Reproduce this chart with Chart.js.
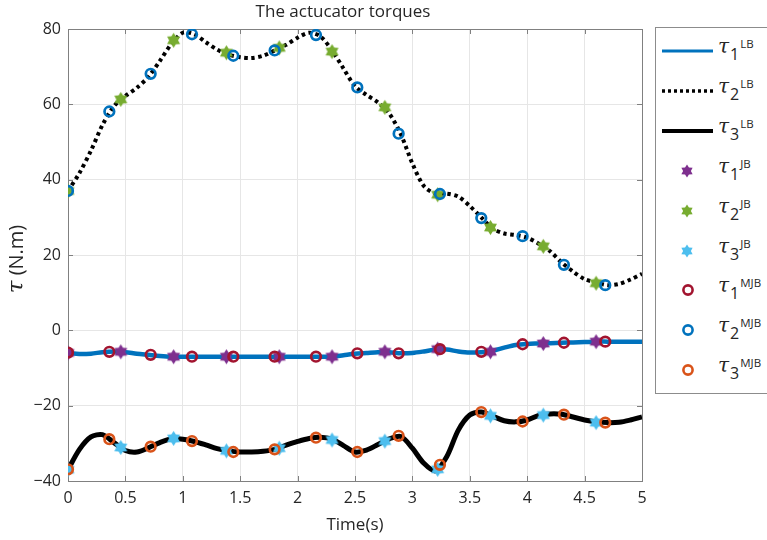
<!DOCTYPE html>
<html>
<head>
<meta charset="utf-8">
<script src="https://cdn.jsdelivr.net/npm/chart.js@4.4.1/dist/chart.umd.min.js"></script>
<style>
  html, body { margin: 0; padding: 0; background: #fff; }
  #wrap { position: relative; width: 767px; height: 540px; overflow: hidden; }
  #legend {
    position: absolute; left: 655px; top: 27px; width: 120px; height: 367px;
    border: 1px solid #8c8c8c; background: #fff; box-sizing: border-box;
  }
  .row { position: absolute; left: 0; height: 24px; width: 120px; }
  .row svg { position: absolute; left: 5px; top: 0; }
  .lab { position: absolute; left: 62px; top: -5px; font-family: "Open Sans", sans-serif; color: #262626; white-space: nowrap; }
  .lab .tau { font-family: "DejaVu Serif", serif; font-style: italic; font-size: 20px; }
  .lab .sub { position: relative; top: 7px; font-size: 16px; margin-left: 1px; }
  .lab .sup { position: relative; top: -5px; font-size: 11.5px; margin-left: 1px; }
</style>
</head>
<body>
<div id="wrap">
  <canvas id="chart" width="767" height="540"></canvas>
  <div id="legend"></div>
</div>
<script>
// زمان نمونه‌های منحنی‌های LB
const lineTime = [0, 0.1, 0.2, 0.3, 0.4, 0.5, 0.6, 0.7, 0.8, 0.9,
  1.0, 1.1, 1.2, 1.3, 1.4, 1.5, 1.6, 1.7, 1.8, 1.9,
  2.0, 2.1, 2.2, 2.3, 2.4, 2.5, 2.6, 2.7, 2.8, 2.9,
  3.0, 3.1, 3.2, 3.3, 3.4, 3.5, 3.6, 3.7, 3.8, 3.9,
  4.0, 4.1, 4.2, 4.3, 4.4, 4.5, 4.6, 4.7, 4.8, 4.9, 5.0];

const tau1LB = [-6, -6.3, -6.2, -5.8, -5.6, -5.8, -6.2, -6.5, -6.8, -7,
  -7, -7, -7, -7, -7, -7, -7, -7, -7, -7,
  -7, -7, -7, -7, -6.6, -6.2, -6, -5.8, -5.8, -6.1,
  -6, -5.6, -5.1, -5.1, -5.6, -5.9, -5.8, -5.4, -4.6, -3.9,
  -3.6, -3.5, -3.4, -3.3, -3.2, -3.1, -3, -3, -3, -3, -3];

const tau2LB = [37, 41.8, 47.7, 54.5, 59.5, 62.2, 64.4, 67.3, 71.5, 76,
  79, 78.6, 76.5, 74.5, 73.2, 72.5, 72.3, 72.9, 74.3, 75.8,
  77.7, 79, 78, 74.3, 69.5, 64.8, 62.5, 60.5, 57.5, 52,
  44.3, 38.3, 36.3, 36.3, 35.5, 33, 30, 27, 25.7, 25.3,
  24.6, 23, 21, 18, 15.6, 13.6, 12.7, 12, 12.3, 13.5, 15];

const tau3LB = [-37, -31.6, -28.3, -27.7, -29.8, -31.9, -32.3, -31.2, -29.8, -28.8,
  -28.9, -29.5, -30.4, -31.4, -32, -32.3, -32.3, -32.1, -31.6, -30.5,
  -29.5, -28.7, -28.4, -28.9, -30.6, -32.3, -31.8, -30.3, -28.8, -28.2,
  -31.3, -35.3, -37.3, -33.5, -26.5, -22.5, -21.7, -22.8, -24, -24.3,
  -23.8, -22.6, -22.2, -22.3, -23, -23.8, -24.3, -24.5, -24.4, -23.8, -23];

// نقاط JB (ستاره)
const jbTime = [0, 0.46, 0.92, 1.38, 1.84, 2.3, 2.76, 3.22, 3.68, 4.14, 4.6];
const tau1JB = [-6, -5.7, -7, -7, -7, -7, -5.7, -5, -5.7, -3.5, -3];
const tau2JB = [37, 61.3, 77, 73.7, 75, 74, 59.2, 36, 27.3, 22.3, 12.5];
const tau3JB = [-37, -31.1, -28.7, -32, -31.3, -29.1, -29.4, -36.9, -22.7, -22.5, -24.5];

// نقاط MJB (دایره)
const mjbTime = [0, 0.36, 0.72, 1.08, 1.44, 1.8, 2.16, 2.52, 2.88, 3.24, 3.6, 3.96, 4.32, 4.68];
const tau1MJB = [-5.9, -5.7, -6.5, -7, -7, -7, -7, -6.1, -6.1, -5, -5.7, -3.7, -3.3, -3];
const tau2MJB = [37, 58.1, 68.1, 78.6, 72.9, 74.3, 78.4, 64.5, 52.2, 36.2, 29.8, 25, 17.4, 12];
const tau3MJB = [-36.9, -28.9, -30.9, -29.4, -32.3, -31.6, -28.5, -32.3, -28, -35.7, -21.7, -24.2, -22.4, -24.5];

const xTicks = [0, 0.5, 1, 1.5, 2, 2.5, 3, 3.5, 4, 4.5, 5];
const yTicks = [-40, -20, 0, 20, 40, 60, 80];

const pts = (xs, ys) => xs.map((x, i) => ({ x: x, y: ys[i] }));

// ستاره شش‌پر برای نشانگرها
function hexagram(color, r) {
    const c = document.createElement('canvas');
    const s = Math.ceil(r * 2 + 2);
    c.width = s; c.height = s;
    const g = c.getContext('2d');
    g.fillStyle = color;
    g.beginPath();
    for (let k = 0; k < 12; k++) {
        const a = -Math.PI / 2 + k * Math.PI / 6;
        const rr = k % 2 === 0 ? r : r * 0.6;
        const px = s / 2 + rr * Math.cos(a), py = s / 2 + rr * Math.sin(a);
        k === 0 ? g.moveTo(px, py) : g.lineTo(px, py);
    }
    g.closePath();
    g.fill();
    return c;
}

function hexPath(cx, cy, r) {
    let p = [];
    for (let k = 0; k < 12; k++) {
        const a = -Math.PI / 2 + k * Math.PI / 6;
        const rr = k % 2 === 0 ? r : r * 0.6;
        p.push((cx + rr * Math.cos(a)).toFixed(2) + ',' + (cy + rr * Math.sin(a)).toFixed(2));
    }
    return p.join(' ');
}

const C = {
    blue: '#0072BD', purple: '#7E2F8E', green: '#77AC30', cyan: '#4DBEEE',
    red: '#A2142F', orange: '#D95319', black: '#000000'
};

function circleSet(data, color) {
    return {
        data: data, showLine: false, pointStyle: 'circle', pointRadius: 4.8,
        pointBorderWidth: 2.7, pointBorderColor: color, pointBackgroundColor: 'rgba(0,0,0,0)', order: 1
    };
}
function starSet(data, color) {
    return { data: data, showLine: false, pointStyle: hexagram(color, 7.5), order: 2 };
}
function lineSet(data, color, width, dash) {
    return {
        data: data, showLine: true, borderColor: color, borderWidth: width, borderDash: dash || [],
        pointRadius: 0, tension: 0.3, fill: false, order: 3
    };
}

// کادر دور محور، تیک‌های داخلی و عنوان‌ها
const axesBox = {
    id: 'axesBox',
    beforeDatasetsDraw(chart) {
        const { ctx, chartArea: a, scales: { x, y } } = chart;
        ctx.save();
        ctx.strokeStyle = '#808080';
        ctx.lineWidth = 1;
        ctx.beginPath();
        xTicks.forEach(v => {
            const px = Math.round(x.getPixelForValue(v)) + 0.5;
            ctx.moveTo(px, a.bottom); ctx.lineTo(px, a.bottom - 5);
            ctx.moveTo(px, a.top); ctx.lineTo(px, a.top + 5);
        });
        yTicks.forEach(v => {
            const py = Math.round(y.getPixelForValue(v)) + 0.5;
            ctx.moveTo(a.left, py); ctx.lineTo(a.left + 5, py);
            ctx.moveTo(a.right, py); ctx.lineTo(a.right - 5, py);
        });
        ctx.stroke();
        ctx.strokeRect(Math.round(a.left) + 0.5, Math.round(a.top) + 0.5,
            Math.round(a.right - a.left), Math.round(a.bottom - a.top));
        ctx.restore();
    },
    afterDraw(chart) {
        const { ctx, chartArea: a } = chart;
        ctx.save();
        ctx.fillStyle = '#262626';
        ctx.textBaseline = 'middle';
        ctx.textAlign = 'center';
        ctx.font = '17px "Open Sans", sans-serif';
        ctx.fillText('The actucator torques', 343, 12);

        // برچسب محور y با تاو ایتالیک
        ctx.translate(17, (a.top + a.bottom) / 2 + 4);
        ctx.rotate(-Math.PI / 2);
        ctx.textAlign = 'left';
        const f1 = 'italic 23px "DejaVu Serif", serif';
        const f2 = '20px "Open Sans", sans-serif';
        ctx.font = f1;
        const w1 = ctx.measureText('\u03C4').width;
        ctx.font = f2;
        const w2 = ctx.measureText(' (N.m)').width;
        const x0 = -(w1 + w2) / 2;
        ctx.font = f1;
        ctx.fillText('\u03C4', x0, 0);
        ctx.font = f2;
        ctx.fillText(' (N.m)', x0 + w1, 0);
        ctx.restore();
    }
};

const tickFont = { family: '"Open Sans", sans-serif', size: 16 };

new Chart(document.getElementById('chart').getContext('2d'), {
    type: 'scatter',
    data: {
        datasets: [
            circleSet(pts(mjbTime, tau1MJB), C.red),
            circleSet(pts(mjbTime, tau2MJB), C.blue),
            circleSet(pts(mjbTime, tau3MJB), C.orange),
            starSet(pts(jbTime, tau1JB), C.purple),
            starSet(pts(jbTime, tau2JB), C.green),
            starSet(pts(jbTime, tau3JB), C.cyan),
            lineSet(pts(lineTime, tau1LB), C.blue, 4.5),
            lineSet(pts(lineTime, tau2LB), C.black, 4, [3.5, 3.5]),
            lineSet(pts(lineTime, tau3LB), C.black, 5)
        ]
    },
    options: {
        responsive: false,
        animation: false,
        layout: { padding: { left: 0, top: 29, right: 125, bottom: 0 } },
        plugins: {
            legend: { display: false },
            tooltip: { enabled: false },
            title: { display: false }
        },
        scales: {
            x: {
                type: 'linear', min: 0, max: 5,
                afterFit: s => { s.height = 59; },
                afterBuildTicks: s => { s.ticks = xTicks.map(v => ({ value: v })); },
                ticks: { font: tickFont, color: '#262626', padding: 8, maxRotation: 0, callback: v => String(v) },
                grid: { color: '#e6e6e6', drawTicks: false },
                border: { display: false },
                title: {
                    display: true, text: 'Time(s)', color: '#262626',
                    font: { family: '"Open Sans", sans-serif', size: 17 },
                    padding: { top: 5, bottom: 5 }
                }
            },
            y: {
                type: 'linear', min: -40, max: 80,
                afterFit: s => { s.width = 68; },
                afterBuildTicks: s => { s.ticks = yTicks.map(v => ({ value: v })); },
                ticks: {
                    font: tickFont, color: '#262626', padding: 7,
                    callback: v => String(v).replace('-', '\u2212')
                },
                grid: { color: '#e6e6e6', drawTicks: false },
                border: { display: false },
                title: { display: false }
            }
        }
    },
    plugins: [axesBox]
});

// لجند دستی (به‌خاطر زیرنویس و بالانویس)
const legendItems = [
    { kind: 'line', color: C.blue, width: 3, dash: '', n: '1', tag: 'LB' },
    { kind: 'line', color: C.black, width: 3.5, dash: '3,3', n: '2', tag: 'LB' },
    { kind: 'line', color: C.black, width: 4, dash: '', n: '3', tag: 'LB' },
    { kind: 'star', color: C.purple, n: '1', tag: 'JB' },
    { kind: 'star', color: C.green, n: '2', tag: 'JB' },
    { kind: 'star', color: C.cyan, n: '3', tag: 'JB' },
    { kind: 'circle', color: C.red, n: '1', tag: 'MJB' },
    { kind: 'circle', color: C.blue, n: '2', tag: 'MJB' },
    { kind: 'circle', color: C.orange, n: '3', tag: 'MJB' }
];

const legend = document.getElementById('legend');
legendItems.forEach((it, i) => {
    const row = document.createElement('div');
    row.className = 'row';
    row.style.top = (11 + i * 39.9) + 'px';
    let mark = '';
    if (it.kind === 'line') {
        mark = `<line x1="1" y1="12" x2="52" y2="12" stroke="${it.color}" stroke-width="${it.width}" stroke-dasharray="${it.dash}"/>`;
    } else if (it.kind === 'star') {
        mark = `<polygon points="${hexPath(26, 12, 6.5)}" fill="${it.color}"/>`;
    } else {
        mark = `<circle cx="27" cy="12" r="4.6" fill="none" stroke="${it.color}" stroke-width="2.6"/>`;
    }
    row.innerHTML = `<svg width="54" height="24">${mark}</svg>` +
        `<span class="lab"><span class="tau">\u03C4</span><span class="sub">${it.n}</span><span class="sup">${it.tag}</span></span>`;
    legend.appendChild(row);
});
</script>
</body>
</html>
